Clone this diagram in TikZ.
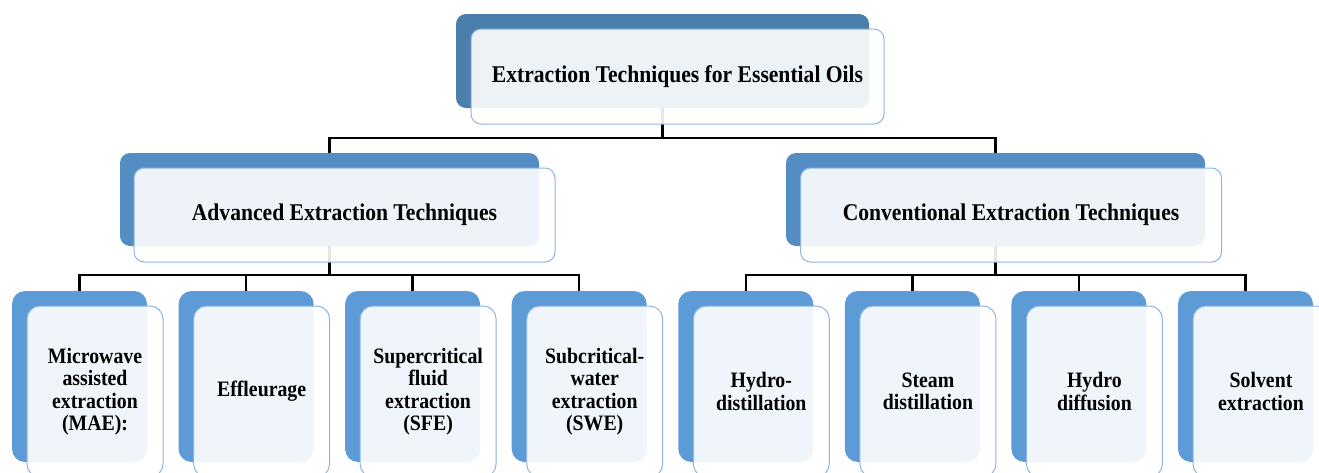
\documentclass[tikz,border=0pt]{standalone}
\usepackage{fontspec}
\setmainfont{Liberation Serif}[FakeStretch=0.9]
\definecolor{topblue}{RGB}{74,126,173}
\definecolor{midblue}{RGB}{84,141,196}
\definecolor{lowblue}{RGB}{92,155,213}
\definecolor{edgeblue}{RGB}{141,180,226}

\begin{document}
\begin{tikzpicture}[x=1pt,y=-1pt,
    backbox/.style={rectangle,rounded corners=10pt,inner sep=0pt,outer sep=0pt},
    frontbox/.style={rectangle,rounded corners=10pt,draw=edgeblue,line width=1pt,
      fill=white,fill opacity=0.9,text opacity=1,inner sep=0pt,outer sep=0pt,
      align=center,font=\fontsize{24}{26}\selectfont\bfseries},
    smallback/.style={backbox,fill=lowblue,rounded corners=13pt,
      minimum width=135pt,minimum height=171pt},
    smallfront/.style={frontbox,rounded corners=13pt,minimum width=136pt,
      minimum height=171pt,font=\fontsize{22}{22.5}\selectfont\bfseries},
    link/.style={line width=2.5pt}]
            \clip (0,0) rectangle (1319,472);
            % Back boxes
            \node[backbox,fill=topblue,minimum width=413pt,minimum height=94pt] (T) at (662.5,61){};
            \node[backbox,fill=midblue,minimum width=419pt,minimum height=93pt] (A) at (329.5,199.5){};
            \node[backbox,fill=midblue,minimum width=419pt,minimum height=93pt] (C) at (995.5,199.5){};
            \node[smallback] (A1) at (79.5,376.5){};
            \node[smallback] (A2) at (246.1,376.5){};
            \node[smallback] (A3) at (412.6,376.5){};
            \node[smallback] (A4) at (579.2,376.5){};
            \node[smallback] (C1) at (745.8,376.5){};
            \node[smallback] (C2) at (912.4,376.5){};
            \node[smallback] (C3) at (1078.9,376.5){};
            \node[smallback] (C4) at (1245.5,376.5){};
            % Edges
            \draw[link] (T.south) -- ++(0,30) -| (A.north);
            \draw[link] (T.south) -- ++(0,30) -| (C.north);
            \draw[link] (A.south) -- ++(0,29) -| (A1.north);
            \draw[link] (A.south) -- ++(0,29) -| (A2.north);
            \draw[link] (A.south) -- ++(0,29) -| (A3.north);
            \draw[link] (A.south) -- ++(0,29) -| (A4.north);
            \draw[link] (C.south) -- ++(0,29) -| (C1.north);
            \draw[link] (C.south) -- ++(0,29) -| (C2.north);
            \draw[link] (C.south) -- ++(0,29) -| (C3.north);
            \draw[link] (C.south) -- ++(0,29) -| (C4.north);
            % Front boxes
            \node[frontbox,minimum width=413pt,minimum height=95pt] (Tf) at (677.5,76.5){Extraction Techniques for Essential Oils};
            \node[frontbox,minimum width=421pt,minimum height=94pt] (Af) at (344.5,215){Advanced Extraction Techniques};
            \node[frontbox,minimum width=421pt,minimum height=94pt] (Cf) at (1011,215){Conventional Extraction Techniques};
            \node[smallfront] (A1f) at (95,391.5){Microwave\\assisted\\extraction\\(MAE):};
            \node[smallfront] (A2f) at (261.6,391.5){Effleurage};
            \node[smallfront] (A3f) at (428.1,391.5){Supercritical\\fluid\\extraction\\(SFE)};
            \node[smallfront] (A4f) at (594.7,391.5){Subcritical-\\water\\extraction\\(SWE)};
            \node[smallfront] (C1f) at (761.3,391.5){Hydro-\\distillation};
            \node[smallfront] (C2f) at (927.9,391.5){Steam\\distillation};
            \node[smallfront] (C3f) at (1094.4,391.5){Hydro\\diffusion};
            \node[smallfront] (C4f) at (1261,391.5){Solvent\\extraction};
        \end{tikzpicture}
\end{document}
